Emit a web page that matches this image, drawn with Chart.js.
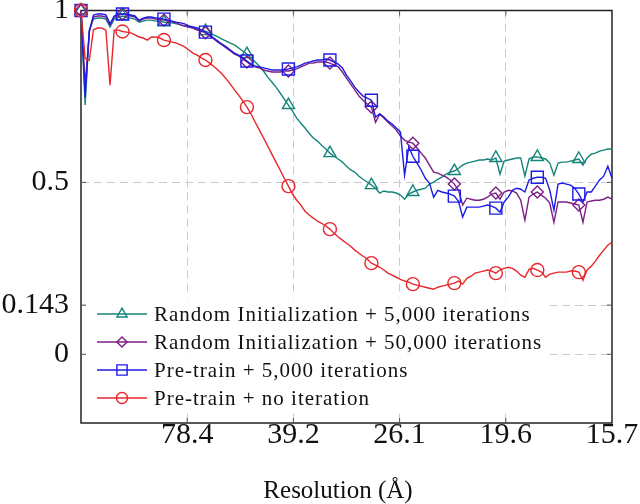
<!DOCTYPE html>
<html>
<head>
<meta charset="utf-8">
<script src="https://cdn.jsdelivr.net/npm/chart.js@4.4.1/dist/chart.umd.min.js"></script>
<style>
  html, body { margin: 0; padding: 0; background: #fff; }
  #wrap { width: 640px; height: 504px; }
</style>
</head>
<body>
<div id="wrap"><canvas id="fscChart"></canvas></div>
<script>
// ============================================
// DATA — FSC curves, 129 shells from 0 to 5 (unit = 1/78.4 Å⁻¹)
// ============================================
const shellCount = 129;
const xs = Array.from({ length: shellCount }, (_, i) => i * 5 / (shellCount - 1));

const xTickPos    = [1, 2, 3, 4, 5];
const xTickLabels = ['78.4', '39.2', '26.1', '19.6', '15.7'];
const yTicks      = [0, 0.143, 0.5, 1];
const xTitle      = 'Resolution (Å)';

const seriesNames = [
  'Random Initialization + 5,000 iterations',
  'Random Initialization + 50,000 iterations',
  'Pre-train + 5,000 iterations',
  'Pre-train + no iteration'
];

const randInit5k = [
  1.0, 0.725, 0.943, 0.975, 0.978, 0.978, 0.975, 0.952, 0.975, 0.981,
  0.984, 0.981, 0.978, 0.975, 0.966, 0.969, 0.972, 0.972, 0.969, 0.969,
  0.966, 0.965, 0.964, 0.961, 0.958, 0.955, 0.952, 0.949, 0.946, 0.943,
  0.940, 0.935, 0.929, 0.923, 0.917, 0.911, 0.905, 0.900, 0.891, 0.882,
  0.873, 0.862, 0.850, 0.838, 0.824, 0.806, 0.792, 0.777, 0.760, 0.742,
  0.725, 0.707, 0.687, 0.672, 0.658, 0.643, 0.629, 0.620, 0.608, 0.597,
  0.585, 0.576, 0.568, 0.559, 0.547, 0.536, 0.530, 0.518, 0.509, 0.501,
  0.492, 0.483, 0.469, 0.475, 0.472, 0.472, 0.469, 0.463, 0.451, 0.466,
  0.472, 0.477, 0.480, 0.483, 0.495, 0.501, 0.509, 0.515, 0.524, 0.530,
  0.533, 0.541, 0.550, 0.556, 0.559, 0.562, 0.565, 0.565, 0.568, 0.565,
  0.571, 0.524, 0.562, 0.565, 0.568, 0.571, 0.571, 0.518, 0.568, 0.574,
  0.574, 0.571, 0.568, 0.556, 0.521, 0.556, 0.559, 0.559, 0.562, 0.565,
  0.568, 0.550, 0.571, 0.582, 0.585, 0.591, 0.594, 0.597, 0.597
];

const randInit50k = [
  1.0, 0.783, 0.937, 0.981, 0.984, 0.984, 0.981, 0.958, 0.981, 0.987,
  0.990, 0.987, 0.984, 0.981, 0.969, 0.975, 0.978, 0.978, 0.975, 0.974,
  0.972, 0.969, 0.966, 0.964, 0.958, 0.955, 0.952, 0.949, 0.943, 0.940,
  0.935, 0.926, 0.917, 0.908, 0.900, 0.891, 0.882, 0.873, 0.868, 0.859,
  0.850, 0.841, 0.836, 0.833, 0.827, 0.824, 0.821, 0.821, 0.821, 0.824,
  0.824, 0.827, 0.830, 0.836, 0.841, 0.847, 0.847, 0.850, 0.850, 0.850,
  0.847, 0.841, 0.836, 0.821, 0.803, 0.786, 0.769, 0.751, 0.739, 0.728,
  0.719, 0.675, 0.699, 0.687, 0.675, 0.664, 0.652, 0.635, 0.623, 0.617,
  0.614, 0.600, 0.585, 0.571, 0.550, 0.530, 0.527, 0.521, 0.515, 0.507,
  0.495, 0.477, 0.434, 0.454, 0.451, 0.448, 0.448, 0.451, 0.457, 0.466,
  0.469, 0.451, 0.472, 0.477, 0.475, 0.469, 0.448, 0.390, 0.457, 0.466,
  0.472, 0.463, 0.454, 0.440, 0.384, 0.443, 0.443, 0.443, 0.440, 0.437,
  0.434, 0.384, 0.443, 0.446, 0.448, 0.448, 0.451, 0.457, 0.451
];

const pretrain5k = [
  1.0, 0.748, 0.940, 0.987, 0.990, 0.990, 0.987, 0.961, 0.984, 0.990,
  0.990, 0.990, 0.987, 0.984, 0.972, 0.978, 0.981, 0.981, 0.978, 0.977,
  0.975, 0.972, 0.969, 0.966, 0.964, 0.961, 0.955, 0.952, 0.949, 0.943,
  0.937, 0.929, 0.920, 0.911, 0.902, 0.894, 0.885, 0.876, 0.870, 0.862,
  0.853, 0.844, 0.838, 0.836, 0.833, 0.830, 0.827, 0.827, 0.827, 0.827,
  0.830, 0.833, 0.836, 0.841, 0.847, 0.850, 0.853, 0.856, 0.856, 0.859,
  0.856, 0.850, 0.844, 0.833, 0.812, 0.795, 0.777, 0.763, 0.751, 0.745,
  0.739, 0.690, 0.699, 0.690, 0.678, 0.670, 0.658, 0.646, 0.521, 0.603,
  0.576, 0.556, 0.536, 0.512, 0.498, 0.457, 0.477, 0.472, 0.469, 0.466,
  0.460, 0.445, 0.399, 0.428, 0.428, 0.428, 0.428, 0.431, 0.434, 0.431,
  0.425, 0.413, 0.443, 0.457, 0.477, 0.483, 0.480, 0.472, 0.507, 0.512,
  0.515, 0.515, 0.512, 0.477, 0.419, 0.495, 0.498, 0.495, 0.492, 0.483,
  0.466, 0.443, 0.472, 0.472, 0.489, 0.507, 0.518, 0.547, 0.512
];

const pretrainNoIter = [
  1.0, 0.860, 0.855, 0.944, 0.949, 0.949, 0.943, 0.783, 0.943, 0.943,
  0.939, 0.937, 0.935, 0.929, 0.923, 0.920, 0.914, 0.923, 0.923, 0.920,
  0.914, 0.911, 0.908, 0.905, 0.900, 0.894, 0.885, 0.876, 0.870, 0.862,
  0.856, 0.847, 0.838, 0.827, 0.815, 0.801, 0.786, 0.769, 0.754, 0.737,
  0.719, 0.699, 0.675, 0.652, 0.629, 0.606, 0.582, 0.559, 0.536, 0.512,
  0.489, 0.466, 0.448, 0.434, 0.416, 0.405, 0.396, 0.387, 0.381, 0.373,
  0.364, 0.352, 0.341, 0.332, 0.323, 0.314, 0.303, 0.294, 0.285, 0.277,
  0.265, 0.259, 0.253, 0.245, 0.236, 0.230, 0.224, 0.218, 0.213, 0.210,
  0.204, 0.201, 0.198, 0.195, 0.192, 0.189, 0.195, 0.198, 0.201, 0.204,
  0.207, 0.213, 0.204, 0.221, 0.227, 0.236, 0.239, 0.242, 0.245, 0.242,
  0.236, 0.245, 0.250, 0.253, 0.250, 0.242, 0.230, 0.224, 0.247, 0.250,
  0.245, 0.239, 0.224, 0.233, 0.236, 0.239, 0.239, 0.239, 0.242, 0.242,
  0.239, 0.215, 0.245, 0.256, 0.271, 0.288, 0.303, 0.317, 0.326
];

const markEvery = 10;
const serifFont = "'Liberation Serif', 'DejaVu Serif', serif";

function toPoints(values) {
  return values.map((v, i) => ({ x: xs[i], y: v }));
}

function makeSeries(label, values, color, pointStyle, radius, order) {
  return {
    label: label,
    data: toPoints(values),
    borderColor: color,
    backgroundColor: 'rgba(0,0,0,0)',
    borderWidth: 1.4,
    pointStyle: pointStyle,
    pointRadius: ctx => (ctx.dataIndex % markEvery === 0 ? radius : 0),
    pointBorderColor: color,
    pointBackgroundColor: 'rgba(0,0,0,0)',
    pointBorderWidth: 1.4,
    pointHoverRadius: 0,
    tension: 0,
    clip: false,
    order: order,
    legendRadius: radius
  };
}

// ============================================
// PLUGIN — axis frame, inner ticks, legend box, x title
// ============================================
const framePlugin = {
  id: 'frameAndLegend',
  beforeDatasetsDraw(chart) {
    const { ctx, chartArea: a, scales } = chart;
    ctx.save();
    ctx.strokeStyle = '#222';
    ctx.lineWidth = 1.5;
    ctx.strokeRect(a.left, a.top, a.right - a.left, a.bottom - a.top);
    ctx.lineWidth = 1;
    ctx.strokeStyle = '#555';
    ctx.beginPath();
    xTickPos.slice(0, -1).forEach(v => {
      const px = scales.x.getPixelForValue(v);
      ctx.moveTo(px, a.bottom); ctx.lineTo(px, a.bottom - 5);
      ctx.moveTo(px, a.top); ctx.lineTo(px, a.top + 5);
    });
    yTicks.slice(0, -1).forEach(v => {
      const py = scales.y.getPixelForValue(v);
      ctx.moveTo(a.left, py); ctx.lineTo(a.left + 5, py);
      ctx.moveTo(a.right, py); ctx.lineTo(a.right - 5, py);
    });
    ctx.stroke();
    ctx.restore();
  },
  afterDatasetsDraw(chart) {
    const { ctx } = chart;
    const boxX = 86, boxY = 297, boxW = 464, boxH = 116;
    const rowY = [314, 342, 370, 398];
    ctx.save();
    ctx.fillStyle = 'rgba(255,255,255,0.95)';
    ctx.fillRect(boxX, boxY, boxW, boxH);
    ctx.textBaseline = 'middle';
    chart.data.datasets.forEach((ds, i) => {
      const y = rowY[i];
      ctx.strokeStyle = ds.borderColor;
      ctx.lineWidth = 1.4;
      ctx.beginPath();
      ctx.moveTo(97, y);
      ctx.lineTo(147, y);
      ctx.stroke();
      ctx.fillStyle = 'rgba(0,0,0,0)';
      Chart.helpers.drawPoint(ctx, {
        pointStyle: ds.pointStyle,
        radius: ds.legendRadius * 0.85,
        rotation: 0,
        borderWidth: 1.4
      }, 122, y);
      ctx.fillStyle = '#111';
      ctx.font = '21px ' + serifFont;
      ctx.letterSpacing = '1px';
      ctx.fillText(ds.label, 154, y + 1);
      ctx.letterSpacing = '0px';
    });
    ctx.font = '25px ' + serifFont;
    ctx.textAlign = 'center';
    ctx.fillStyle = '#111';
    ctx.fillText(xTitle, 338, 491);
    ctx.restore();
  }
};

const chartCanvas = document.getElementById('fscChart');
new Chart(chartCanvas.getContext('2d'), {
  type: 'line',
  data: {
    datasets: [
      makeSeries(seriesNames[0], randInit5k,     '#14857a', 'triangle', 7,   4),
      makeSeries(seriesNames[1], randInit50k,    '#7d1f86', 'rectRot',  6,   3),
      makeSeries(seriesNames[2], pretrain5k,     '#1c1ce6', 'rect',     8.5, 2),
      makeSeries(seriesNames[3], pretrainNoIter, '#e8262c', 'circle',   6.5, 1)
    ]
  },
  options: {
    responsive: true,
    maintainAspectRatio: false,
    animation: false,
    events: [],
    layout: { padding: { left: 0, right: 28, top: 10.5, bottom: 0 } },
    plugins: {
      legend: { display: false },
      tooltip: { enabled: false }
    },
    scales: {
      x: {
        type: 'linear',
        min: 0,
        max: 5,
        afterBuildTicks: scale => { scale.ticks = xTickPos.map(v => ({ value: v })); },
        afterFit: scale => {
          scale.height = 81;
          scale.paddingLeft = 0;
          scale.paddingRight = 0;
        },
        grid: {
          drawTicks: false,
          color: ctx => (ctx.tick && ctx.tick.value >= 5 ? 'rgba(0,0,0,0)' : '#c9c9c9'),
          lineWidth: 1
        },
        border: { display: false, dash: [8, 5] },
        ticks: {
          autoSkip: false,
          maxRotation: 0,
          padding: -6,
          color: '#111',
          font: { family: serifFont, size: 30 },
          callback: v => xTickLabels[xTickPos.indexOf(v)]
        }
      },
      y: {
        type: 'linear',
        min: -0.2,
        max: 1,
        afterBuildTicks: scale => { scale.ticks = yTicks.map(v => ({ value: v })); },
        afterFit: scale => {
          scale.width = 81;
          scale.paddingTop = 0;
          scale.paddingBottom = 0;
        },
        grid: {
          drawTicks: false,
          color: ctx => (ctx.tick && ctx.tick.value >= 1 ? 'rgba(0,0,0,0)' : '#c9c9c9'),
          lineWidth: 1
        },
        border: { display: false, dash: [8, 5] },
        ticks: {
          autoSkip: false,
          padding: 12,
          color: '#111',
          font: { family: serifFont, size: 30 },
          callback: v => String(v)
        }
      }
    }
  },
  plugins: [framePlugin]
});
</script>
</body>
</html>
